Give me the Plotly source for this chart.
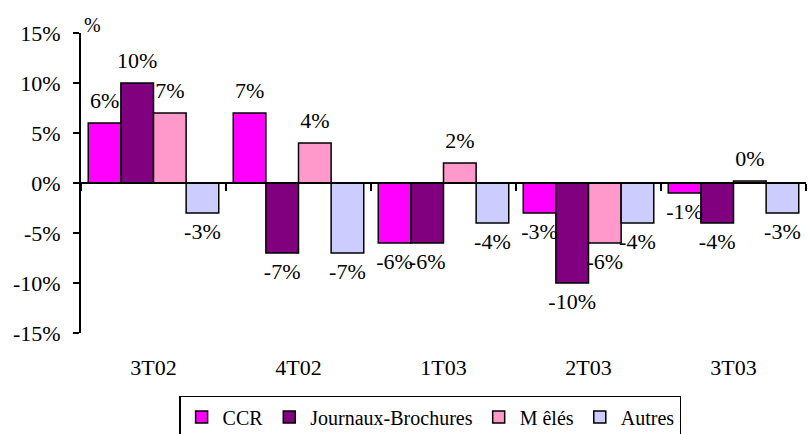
import plotly.graph_objs as go

# Data (variation en %)
quarters = ['3T02', '4T02', '1T03', '2T03', '3T03']
ccr = [6, 7, -6, -3, -1]
journaux = [10, -7, -6, -10, -4]
meles = [7, 4, 2, -6, 0.2]
autres = [-3, -7, -4, -4, -3]

y_ticks = [-15, -10, -5, 0, 5, 10, 15]
y_ticklabels = ['-15%', '-10%', '-5%', '0%', '5%', '10%', '15%']

series = [
    ('CCR', ccr, '#FF00FF'),
    ('Journaux-Brochures', journaux, '#800080'),
    ('M êlés', meles, '#FF99CC'),
    ('Autres', autres, '#CCCCFF'),
]

font_name = 'Liberation Serif'

fig = go.Figure()
# Bars
for name, vals, color in series:
    fig.add_trace(go.Bar(
        name=name, x=quarters, y=vals,
        marker=dict(color=color, line=dict(color='black', width=1.5)),
    ))
# Data labels (grouped scatter aligned on the bars)
for name, vals, color in series:
    fig.add_trace(go.Scatter(
        x=quarters, y=vals, mode='markers+text', showlegend=False, hoverinfo='skip',
        marker=dict(size=14, opacity=0),
        text=['{0}%'.format(round(v)) for v in vals],
        textposition=['top center' if v >= 0 else 'bottom center' for v in vals],
        textfont=dict(family=font_name, size=22, color='black'),
        cliponaxis=False,
    ))

fig.update_layout(
    template='none',
    width=810, height=434,
    margin=dict(l=81, r=4, t=33, b=101),
    paper_bgcolor='white', plot_bgcolor='white',
    barmode='group', bargap=0.1, bargroupgap=0,
    scattermode='group', scattergap=0.1,
    font=dict(family=font_name, size=22, color='black'),
    showlegend=True,
    legend=dict(orientation='h', xref='container', yref='container',
                x=0.531, xanchor='center', y=0.0876, yanchor='top',
                bordercolor='black', borderwidth=1.5, font=dict(size=20),
                itemwidth=32, tracegroupgap=0, bgcolor='white'),
    xaxis=dict(anchor='free', position=0.5, showline=True, linecolor='black', linewidth=2,
               ticks='outside', tickson='boundaries', ticklen=7, tickcolor='black', tickwidth=1.5,
               showgrid=False, zeroline=False, ticklabelstandoff=165, automargin=False,
               tickfont=dict(size=22)),
    yaxis=dict(range=[-15, 15], tickmode='array', tickvals=y_ticks, ticktext=y_ticklabels,
               showline=True, linecolor='black',
               linewidth=2, ticks='outside', ticklen=6, tickcolor='black', tickwidth=2,
               showgrid=False, zeroline=False, automargin=False, ticklabelstandoff=8,
               tickfont=dict(size=22)),
    annotations=[dict(text='%', xref='paper', yref='paper', x=0.0, y=1.0, xshift=11, yshift=8,
                      showarrow=False, font=dict(size=20), xanchor='center', yanchor='middle')],
)

# page body has a default 8px margin: remove it so the figure sits at the top-left corner
fig.write_html('out.html', config={'displayModeBar': False},
               post_script="document.body.style.margin='0';")
